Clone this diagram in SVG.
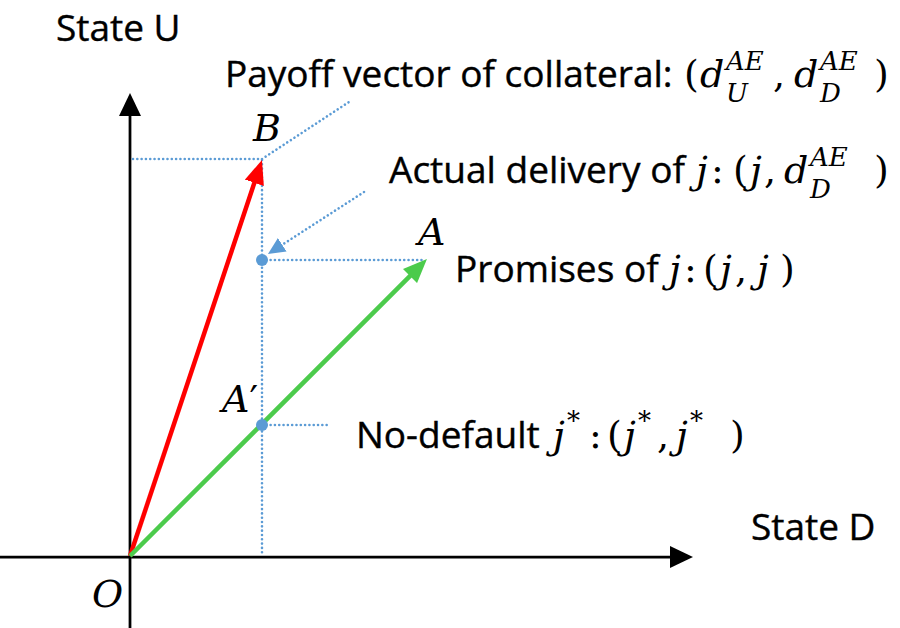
<svg xmlns="http://www.w3.org/2000/svg" width="900" height="628" viewBox="0 0 900 628">
<style>
.lbl{font-family:"Open Sans","Liberation Sans",sans-serif;font-size:37px;fill:#000;stroke:#000;stroke-width:0.4}
.m{font-family:"DejaVu Serif","Liberation Serif",serif;font-style:italic;font-size:38px;fill:#000}
.mu{font-family:"DejaVu Serif","Liberation Serif",serif;font-size:38px;fill:#000}
.ms{font-family:"DejaVu Serif","Liberation Serif",serif;font-style:italic;font-size:26px;fill:#000}
.pr{font-family:"DejaVu Sans",sans-serif;font-style:normal}
.axis{stroke:#000;stroke-width:2.75;fill:none}
.dot{stroke:#5B9BD5;stroke-width:2.6;stroke-linecap:round;stroke-dasharray:0.01 4.3;fill:none}
</style>
<defs>
<marker id="ahK" markerWidth="24" markerHeight="22" refX="1" refY="11" orient="auto" markerUnits="userSpaceOnUse"><path d="M0,0 L23,11 L0,22 Z" fill="#000"/></marker>
<marker id="ahR" markerWidth="25" markerHeight="20" refX="2" refY="10" orient="auto" markerUnits="userSpaceOnUse"><path d="M0,0 L24,10 L0,20 Z" fill="#FF0000"/></marker>
<marker id="ahG" markerWidth="25" markerHeight="20" refX="2" refY="10" orient="auto" markerUnits="userSpaceOnUse"><path d="M0,0 L24,10 L0,20 Z" fill="#4CCB4C"/></marker>
<marker id="ahB" markerWidth="18" markerHeight="16" refX="1" refY="8" orient="auto" markerUnits="userSpaceOnUse"><path d="M0,0 L17,8 L0,16 Z" fill="#5B9BD5"/></marker>
</defs>

<g id="axes">
<line class="axis" x1="130" y1="628" x2="130" y2="115" marker-end="url(#ahK)"/>
<line class="axis" x1="0" y1="557" x2="671" y2="557" marker-end="url(#ahK)"/>
</g>

<g id="connectors">
<line class="dot" x1="133" y1="159" x2="261" y2="159"/>
<line class="dot" x1="262" y1="160" x2="262" y2="556"/>
<line class="dot" x1="262" y1="159" x2="352" y2="100"/>
<line class="dot" x1="262" y1="260" x2="425" y2="260"/>
<line class="dot" x1="262" y1="425" x2="328" y2="425"/>
<line class="dot" x1="364" y1="192" x2="281.4" y2="245.3" marker-end="url(#ahB)"/>
<line x1="130" y1="556" x2="255" y2="180.9" stroke="#FF0000" stroke-width="4.5" marker-end="url(#ahR)"/>
<line x1="130" y1="556" x2="411.4" y2="274.6" stroke="#4CCB4C" stroke-width="4.5" marker-end="url(#ahG)"/>
</g>

<g id="pointJ"><circle cx="262" cy="260" r="6" fill="#5B9BD5"/></g>
<g id="pointAprime"><circle cx="262" cy="425" r="6" fill="#5B9BD5"/></g>

<g id="stateU"><text class="lbl" x="56" y="41">State U</text></g>
<g id="stateD"><text class="lbl" x="751" y="540">State D</text></g>
<g id="O"><text class="m" x="92" y="607">O</text></g>
<g id="B"><text class="m" x="253" y="141">B</text></g>
<g id="A"><text class="m" x="418" y="245">A</text></g>
<g id="Aprime"><text class="m" x="222" y="412">A<tspan class="pr">′</tspan></text></g>

<g id="payoff">
<text class="lbl" x="225" y="87">Payoff vector of collateral:</text>
<text class="mu" x="684" y="87">(</text>
<text class="m" x="700" y="87">d</text>
<text class="ms" x="726" y="70">AE</text>
<text class="ms" x="726" y="102">U</text>
<text class="mu" x="773" y="87">,</text>
<text class="m" x="794" y="87">d</text>
<text class="ms" x="820" y="70">AE</text>
<text class="ms" x="820" y="102">D</text>
<text class="mu" x="874" y="87">)</text>
</g>

<g id="actual">
<text class="lbl" x="389" y="183">Actual delivery of</text>
<text class="m" x="696" y="183">j</text>
<text class="mu" x="711" y="183">:</text>
<text class="mu" x="733" y="183">(</text>
<text class="m" x="750" y="183">j</text>
<text class="mu" x="764" y="183">,</text>
<text class="m" x="784" y="183">d</text>
<text class="ms" x="810" y="166">AE</text>
<text class="ms" x="810" y="198">D</text>
<text class="mu" x="874" y="183">)</text>
</g>

<g id="promises">
<text class="lbl" x="455" y="282">Promises of</text>
<text class="m" x="669" y="282">j</text>
<text class="mu" x="684" y="282">:</text>
<text class="mu" x="703" y="282">(</text>
<text class="m" x="720" y="282">j</text>
<text class="mu" x="735" y="282">,</text>
<text class="m" x="757" y="282">j</text>
<text class="mu" x="780" y="282">)</text>
</g>

<g id="nodefault">
<text class="lbl" x="356" y="448">No-default</text>
<text class="m" x="553" y="448">j</text>
<text class="ms" x="567" y="430">*</text>
<text class="mu" x="589" y="448">:</text>
<text class="mu" x="607" y="448">(</text>
<text class="m" x="624" y="448">j</text>
<text class="ms" x="638" y="430">*</text>
<text class="mu" x="657" y="448">,</text>
<text class="m" x="676" y="448">j</text>
<text class="ms" x="690" y="430">*</text>
<text class="mu" x="730" y="448">)</text>
</g>
</svg>
